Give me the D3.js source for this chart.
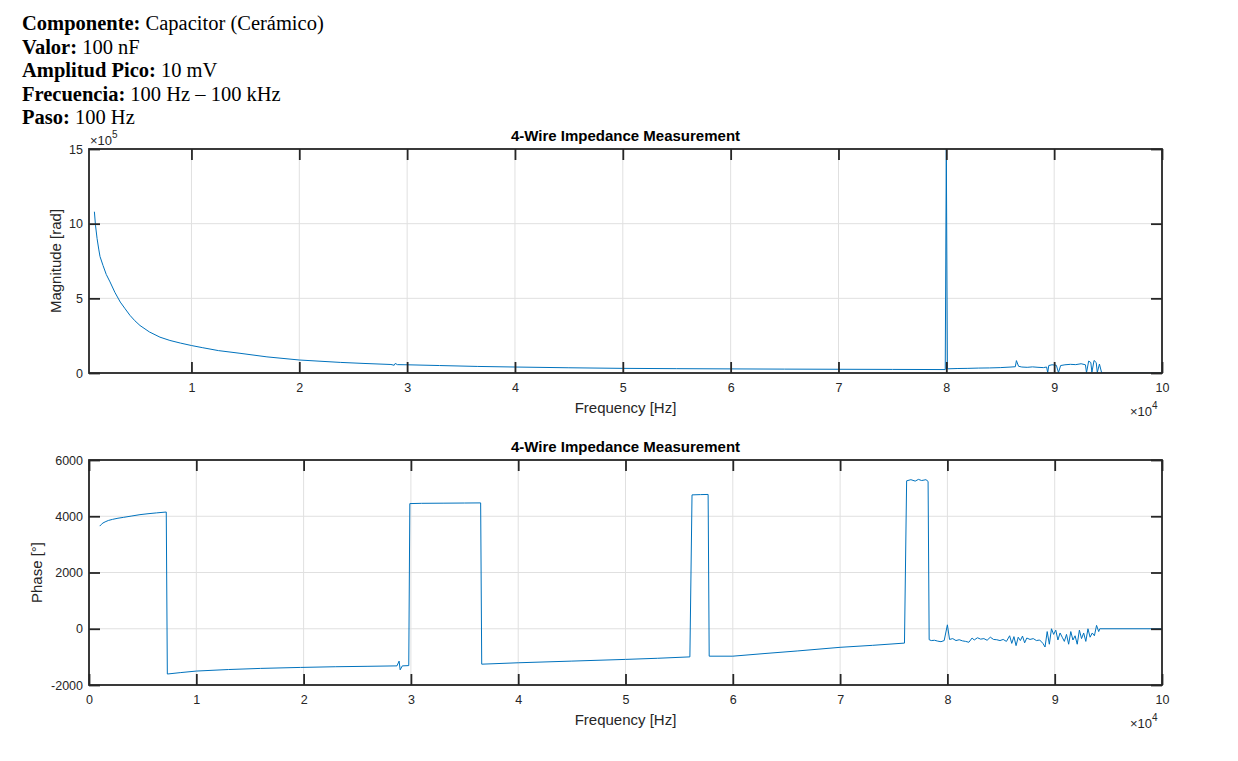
<!DOCTYPE html>
<html>
<head>
<meta charset="utf-8">
<script src="https://cdn.jsdelivr.net/npm/d3@7"></script>
<style>
  body { margin: 0; background: #fff; }
  svg text { font-family: "Liberation Sans", Arial, Helvetica, sans-serif; }
</style>
</head>
<body>
<div id="canvas"></div>
<script>
// header lines (label in bold, value normal)
var headerLabels = ["Componente:", "Valor:", "Amplitud Pico:", "Frecuencia:", "Paso:"];
var headerValues = [" Capacitor (Cerámico)", " 100 nF", " 10 mV", " 100 Hz – 100 kHz", " 100 Hz"];

var chartTitle = "4-Wire Impedance Measurement";
var xTicks = [10000, 20000, 30000, 40000, 50000, 60000, 70000, 80000, 90000, 100000];
var xTicksPhase = [0, 10000, 20000, 30000, 40000, 50000, 60000, 70000, 80000, 90000, 100000];
var magTicks = [0, 500000, 1000000, 1500000];
var phaseTicks = [-2000, 0, 2000, 4000, 6000];

// magnitude
var magFreq = [1000, 1100, 1250, 1400, 1520, 1800, 2100, 2450, 2900, 3400, 3850, 4300, 4750, 5230, 6100,
  7080, 8000, 9000, 10000, 11000, 12500, 14500, 17000, 20000, 23800, 26000, 28500, 28800, 28900, 29100,
  30000, 33000, 36500, 40000, 45000, 50000, 55000, 60000, 65000, 70000, 75000, 79900, 80000, 80100,
  81000, 82000, 83000, 84000, 85000, 86000, 86400, 86500, 86700, 87000, 87500, 88000, 88500, 89000,
  89300, 89400, 89500, 89800, 90200, 90400, 90600, 91000, 91500, 92000, 92500, 92900, 93000, 93200,
  93400, 93500, 93700, 93900, 94000, 94200, 94400, 94500, 100000];
var magValue = [1080000, 990000, 900000, 830000, 780000, 720000, 660000, 610000, 540000, 475000, 430000, 386000, 350000, 318000, 275000,
  240000, 218000, 200000, 184000, 170000, 150000, 132000, 108000, 87000, 71000, 64000, 57000, 52000, 64000, 56000,
  55000, 50000, 44000, 40000, 35000, 31000, 29000, 27500, 26000, 25000, 24000, 23000, 1500000, 28000,
  30000, 31000, 33000, 34000, 36000, 40000, 42000, 83000, 45000, 40000, 38000, 41000, 38000, 36000,
  40000, 2000, 50000, 55000, 52000, 3000, 50000, 55000, 58000, 56000, 62000, 55000, 2000, 80000,
  70000, 5000, 84000, 70000, 3000, 60000, 2000, 0, 0];

// phase
var phaseFreq = [1000, 1150, 1300, 1500, 1800, 2200, 2700, 3200, 4000, 4750, 5500, 6300, 7200, 7300, 8500, 10000, 13000,
  16000, 19700, 23000, 26000, 28700, 28900, 29000, 29200, 29800, 29900, 31000, 33000, 35000, 36500,
  36600, 40000, 45000, 50000, 53000, 56000, 56200, 57000, 57700, 57800, 60000, 63000, 66000, 70000,
  73000, 76000, 76200, 76600, 77000, 77300, 77600, 78000, 78200, 78300, 78500, 78800, 79100, 79400,
  79700, 80000, 80200, 80500, 80800, 81100, 81400, 81700, 82000, 82300, 82500, 82800, 83100, 83400,
  83700, 84000, 84300, 84600, 84900, 85200, 85500, 85800, 86000, 86200, 86400, 86600, 86800, 87000,
  87200, 87400, 87700, 88000, 88300, 88600, 88900, 89100, 89300, 89500, 89700, 89900, 90100, 90300,
  90500, 90700, 90900, 91100, 91300, 91500, 91700, 91900, 92100, 92300, 92500, 92700, 92900, 93100,
  93300, 93500, 93700, 93900, 94100, 94200, 100000];
var phaseValue = [3650, 3710, 3760, 3800, 3850, 3890, 3930, 3960, 4010, 4057, 4090, 4120, 4150, -1610, -1560, -1505, -1450,
  -1410, -1375, -1350, -1335, -1320, -1150, -1460, -1320, -1310, 4450, 4460, 4465, 4470, 4475,
  -1260, -1210, -1150, -1090, -1050, -1000, 4760, 4770, 4775, -975, -975, -880, -790, -660,
  -590, -510, 5260, 5300, 5250, 5310, 5270, 5300, 5240, -390, -420, -410, -440, -460,
  -420, 140, -380, -350, -420, -390, -430, -450, -480, -330, -400, -320, -370, -350,
  -410, -300, -380, -390, -420, -380, -450, -250, -520, -280, -600, -300, -420, -260,
  -500, -330, -380, -350, -420, -400, -520, -650, -100, -550, 0, -200, -50, -400,
  -150, -300, -450, -200, -550, -100, -400, -250, -550, -50, -350, -150, -450, 0,
  -300, -150, -250, 120, -100, 0, 0];

var W = 1238, H = 761;
var svg = d3.select('#canvas').append('svg')
  .attr('width', W)
  .attr('height', H);

// header block
var header = svg.append('g');
headerLabels.forEach(function (lab, i) {
  var t = header.append('text')
    .attr('x', 22)
    .attr('y', 30 + i * 23.5)
    .style('font-family', '"Liberation Serif", "Times New Roman", serif')
    .style('font-size', '20.5px')
    .attr('fill', '#000');
  t.append('tspan').style('font-weight', 'bold').text(lab);
  t.append('tspan').text(headerValues[i]);
});

var axisColor = '#262626';
var left = 89, right = 1162;

function drawPanel(cfg) {
  var g = svg.append('g');
  var x = d3.scaleLinear().domain(cfg.xDomain).range([left, right]);
  var y = d3.scaleLinear().domain(cfg.yDomain).range([cfg.bottom, cfg.top]);
  var h = cfg.bottom - cfg.top;

  // grid
  g.append('g').selectAll('line').data(cfg.xTicks).enter().append('line')
    .attr('x1', function (d) { return x(d); })
    .attr('x2', function (d) { return x(d); })
    .attr('y1', cfg.top).attr('y2', cfg.bottom)
    .attr('stroke', '#e0e0e0').attr('stroke-width', 1);
  g.append('g').selectAll('line').data(cfg.yTicks).enter().append('line')
    .attr('x1', left).attr('x2', right)
    .attr('y1', function (d) { return y(d); })
    .attr('y2', function (d) { return y(d); })
    .attr('stroke', '#e0e0e0').attr('stroke-width', 1);

  // data line
  var clipId = 'clip' + cfg.id;
  g.append('clipPath').attr('id', clipId).append('rect')
    .attr('x', left).attr('y', cfg.top).attr('width', right - left).attr('height', h);
  var pts = cfg.xs.map(function (f, i) { return [f, cfg.ys[i]]; });
  g.append('path')
    .datum(pts)
    .attr('clip-path', 'url(#' + clipId + ')')
    .attr('fill', 'none')
    .attr('stroke', '#0072BD')
    .attr('stroke-width', 1)
    .attr('stroke-linejoin', 'round')
    .attr('d', d3.line().x(function (d) { return x(d[0]); }).y(function (d) { return y(d[1]); }));

  // axes with inward ticks
  var tl = 11;
  var xb = g.append('g').attr('transform', 'translate(0,' + cfg.bottom + ')')
    .call(d3.axisBottom(x).tickValues(cfg.xTicks).tickSizeInner(-tl).tickSizeOuter(0)
      .tickPadding(10).tickFormat(function (d) { return String(d / 10000); }));
  var xt = g.append('g').attr('transform', 'translate(0,' + cfg.top + ')')
    .call(d3.axisTop(x).tickValues(cfg.xTicks).tickSizeInner(-tl).tickSizeOuter(0).tickFormat(''));
  var yl = g.append('g').attr('transform', 'translate(' + left + ',0)')
    .call(d3.axisLeft(y).tickValues(cfg.yTicks).tickSizeInner(-tl).tickSizeOuter(0)
      .tickPadding(6).tickFormat(cfg.yFormat));
  var yr = g.append('g').attr('transform', 'translate(' + right + ',0)')
    .call(d3.axisRight(y).tickValues(cfg.yTicks).tickSizeInner(-tl).tickSizeOuter(0).tickFormat(''));
  [xb, xt, yl, yr].forEach(function (a) {
    a.select('.domain').remove();
    a.selectAll('line').attr('stroke', axisColor).attr('stroke-width', 1.8);
    a.selectAll('text').attr('fill', axisColor).style('font-size', '12.5px')
      .style('font-family', '"Liberation Sans", Arial, sans-serif');
  });

  // box
  g.append('rect')
    .attr('x', left).attr('y', cfg.top).attr('width', right - left).attr('height', h)
    .attr('fill', 'none').attr('stroke', axisColor).attr('stroke-width', 1.8);

  // title
  g.append('text')
    .attr('x', (left + right) / 2).attr('y', cfg.top - 8)
    .attr('text-anchor', 'middle')
    .style('font-size', '15px').style('font-weight', 'bold')
    .attr('fill', '#000')
    .text(chartTitle);

  // x label and exponent
  g.append('text')
    .attr('x', (left + right) / 2).attr('y', cfg.bottom + 40)
    .attr('text-anchor', 'middle')
    .style('font-size', '15px').attr('fill', axisColor)
    .text('Frequency [Hz]');
  var ex = g.append('text')
    .attr('x', 1130).attr('y', cfg.bottom + 43)
    .style('font-size', '13px').attr('fill', axisColor);
  ex.append('tspan').text('×10');
  ex.append('tspan').attr('dy', -7).style('font-size', '10px').text('4');

  // y label
  g.append('text')
    .attr('transform', 'translate(' + cfg.yLabelX + ',' + (cfg.top + cfg.bottom) / 2 + ') rotate(-90)')
    .attr('text-anchor', 'middle')
    .style('font-size', '15px').attr('fill', axisColor)
    .text(cfg.yLabel);

  return g;
}

var top1 = drawPanel({
  id: 1, top: 149, bottom: 373,
  xDomain: [500, 100000], yDomain: [0, 1500000],
  xTicks: xTicks, yTicks: magTicks,
  yFormat: function (d) { return String(d / 100000); },
  xs: magFreq, ys: magValue,
  yLabel: 'Magnitude [rad]', yLabelX: 61
});
// y exponent for the magnitude axis
var ey = top1.append('text')
  .attr('x', 90).attr('y', 145)
  .style('font-size', '13px').attr('fill', axisColor);
ey.append('tspan').text('×10');
ey.append('tspan').attr('dy', -7).style('font-size', '10px').text('5');

drawPanel({
  id: 2, top: 460, bottom: 685,
  xDomain: [0, 100000], yDomain: [-2000, 6000],
  xTicks: xTicksPhase, yTicks: phaseTicks,
  yFormat: function (d) { return String(d); },
  xs: phaseFreq, ys: phaseValue,
  yLabel: 'Phase [°]', yLabelX: 42
});
</script>
</body>
</html>
